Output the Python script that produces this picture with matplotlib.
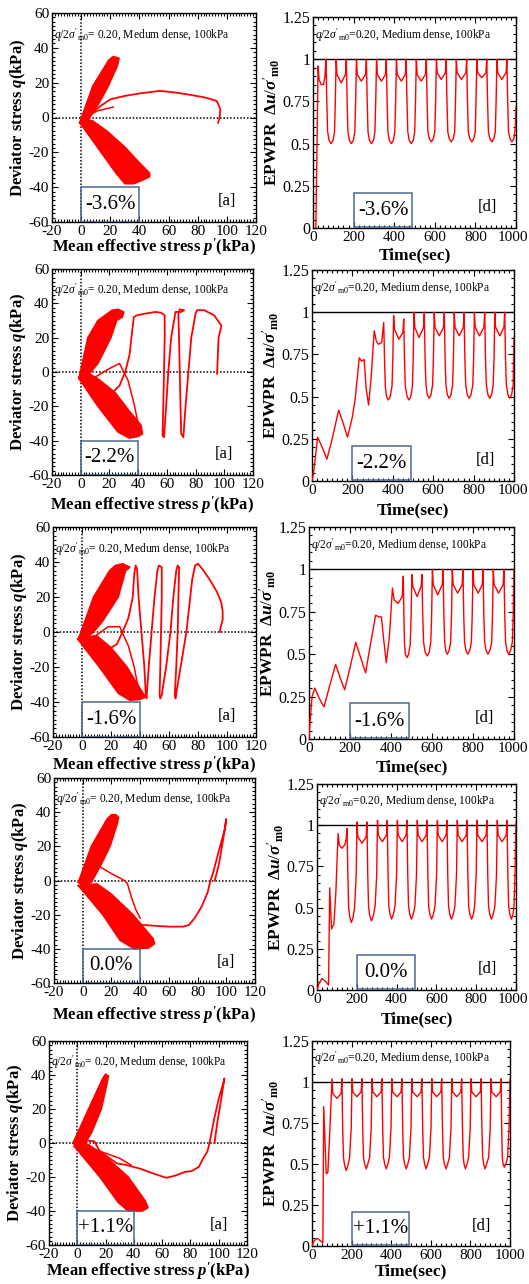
import matplotlib
matplotlib.use("Agg")
import matplotlib.pyplot as plt
from matplotlib.ticker import MultipleLocator, FuncFormatter
from matplotlib.patches import Rectangle
from matplotlib.transforms import ScaledTranslation

plt.rcParams['font.family'] = ['Liberation Serif', 'DejaVu Serif']
plt.rcParams['axes.unicode_minus'] = False
plt.rcParams['mathtext.fontset'] = 'custom'
plt.rcParams['mathtext.rm'] = 'Liberation Serif'
plt.rcParams['mathtext.it'] = 'Liberation Serif:italic'
plt.rcParams['mathtext.bf'] = 'Liberation Serif:bold'
try:
    plt.rcParams['mathtext.bfit'] = 'Liberation Serif:italic:bold'
    BFIT = True
except KeyError:
    BFIT = False

# ---------------- data ----------------
case_labels = ["-3.6%", "-2.2%", "-1.6%", "0.0%", "+1.1%"]

# stress paths (p', q): outline of dense cyclic "wings", first-cycle paths, extra crossing paths
up_wing_p_1 = [-1, 8, 19, 22, 26, 25, 18, 10, 5, 2]
up_wing_q_1 = [-3, 18, 33, 35, 34, 30, 17, 5, -1, -4]
low_wing_p_1 = [0, 12, 24, 30, 36, 42, 47, 47, 40, 30, 18, 8, 3]
low_wing_q_1 = [-4, -18, -32, -38, -38, -36, -34, -32, -26, -17, -8, -2, -1]
path_p_1 = [94, 95, 95.5, 95, 93, 85, 75, 65, 54, 40, 30, 20, 14, 8, 3]
path_q_1 = [-3, 0, 4, 6, 9.5, 11.5, 13, 14.3, 15.3, 13.8, 12.4, 10.4, 7, 3, 0]
cross_p_1 = [4, 12, 22]
cross_q_1 = [1, 4, 6]

up_wing_p_2 = [-1, 5, 12, 22, 26, 30, 29, 25, 21, 12, 6, 2]
up_wing_q_2 = [-3, 20, 30, 36, 36.5, 35, 32, 30, 20, 5, -1, -4]
low_wing_p_2 = [-1, 12, 26, 34, 40, 43, 42, 34, 24, 12, 6]
low_wing_q_2 = [-4, -20, -35, -38.5, -37.5, -36, -31, -23, -12, -4, -1]
path_p_2 = [95, 95.5, 96, 98, 93, 86, 81, 80, 77, 75, 73, 71.5, 70, 69.5, 69, 68.5, 68, 69, 72, 70,
            66, 63, 61, 59.5, 58, 57, 57.5, 58, 58.5, 58.5, 56, 52, 45, 39, 37, 36, 34, 31, 27, 22, 16]
path_q_2 = [-1, 10, 20, 27, 33, 36, 36, 34, 20, 0, -20, -38, -36, -20, 0, 20, 34, 36.5, 36, 35,
            35, 20, 0, -20, -38, -37, -20, 0, 20, 33, 34.5, 35, 34, 33, 32, 25, 10, 0, -8, -12, -12]
cross_p_2 = [10, 20, 27, 33, 37, 40]
cross_q_2 = [-3, 2, 5, -5, -18, -30]

up_wing_p_3 = [-2, 8, 19, 23, 28, 33, 30, 25, 14, 8, 2]
up_wing_q_3 = [-3, 20, 35, 38, 39, 37, 35, 20, 6, 0, -4]
low_wing_p_3 = [-3, 12, 25, 33, 40, 44, 42, 31, 20, 10]
low_wing_q_3 = [-4, -20, -35, -39, -38.5, -37, -35, -20, -9, -2]
path_p_3 = [95, 96, 97, 97, 96, 93, 88, 83, 80, 78, 76, 74, 72, 69, 66, 64.5, 64, 65, 66, 66.5, 67,
            66, 65, 63, 61, 58, 55, 54, 53.5, 54, 54.5, 55, 55, 53, 52, 50, 48, 46, 44.5, 44, 43, 41,
            39, 38, 37, 36, 35, 32, 28, 24, 18, 12]
path_q_3 = [0, 4, 7, 12, 17, 23, 30, 36, 39, 38, 30, 15, 0, -15, -30, -38, -36, -20, 0, 20, 37,
            38, 35, 20, 0, -20, -36, -38, -36, -20, 0, 20, 37, 38, 35, 20, 0, -20, -38, -36, -20, 0,
            20, 36, 38, 33, 20, 8, 0, -7, -10, -8]
cross_p_3 = [8, 18, 26, 32, 36, 39]
cross_q_3 = [-3, 3, 3, -8, -20, -33]

up_wing_p_4 = [-3, 6, 17, 20, 23, 25, 24, 19, 12, 6, 1]
up_wing_q_4 = [-1, 20, 36, 38.5, 38.5, 37, 33, 20, 8, -1, -4]
low_wing_p_4 = [-3, 14, 26, 36, 46, 50, 49, 35, 20, 10]
low_wing_q_4 = [-3, -20, -35, -40, -39.5, -37, -34, -20, -8, -2]
path_p_4 = [92, 95, 98, 100, 99, 95, 91, 89, 87, 83, 78, 74, 70, 60, 50, 42]
path_q_4 = [0, 10, 25, 36, 30, 18, 5, 0, -7, -15, -22, -26, -27, -27, -26.5, -26]
cross_p_4 = [5, 12, 19, 28, 31, 34, 37, 40]
cross_q_4 = [2, 8, 4.5, 0.5, -1.5, -10, -17, -22]

up_wing_p_5 = [-3, 8, 18, 20, 22, 21, 17, 10, 5, 0]
up_wing_q_5 = [0, 20, 38, 40.5, 39.5, 35, 20, 6, -1, -3]
low_wing_p_5 = [-2, 16, 29, 36, 46, 50, 48, 36, 20, 8]
low_wing_q_5 = [-2, -20, -35, -40, -40, -38, -34, -20, -8, -1]
path_p_5 = [97, 99, 102, 104, 103.5, 100, 97, 93.5, 92, 89, 86, 81, 76, 70, 63, 54, 44, 35, 28, 23, 16, 12, 5, 0]
path_q_5 = [0, 12, 27, 38, 36, 26, 15, 0, -5, -9, -14, -16.5, -17, -19, -20.5, -18, -15, -13, -12, -9, -5, 1, 1.5, 1]
cross_p_5 = [10, 20, 30, 38]
cross_q_5 = [-3, -6, -9, -13]

# excess pore-water pressure ratio time histories (time in sec, ratio)
t_d1 = [14, 25, 30, 40, 52, 59,
        64, 68, 72, 79, 89, 99, 106, 110, 114, 118, 139, 160,
        164, 168, 172, 179, 189, 199, 206, 210, 214, 218, 238, 259,
        263, 267, 271, 278, 288, 298, 305, 309, 313, 317, 337, 357,
        361, 365, 369, 376, 386, 396, 403, 407, 411, 415, 435, 455,
        459, 463, 467, 474, 484, 494, 501, 505, 509, 513, 533, 554,
        558, 562, 566, 573, 583, 593, 600, 604, 608, 612, 632, 652,
        656, 660, 664, 671, 681, 691, 698, 702, 706, 710, 731, 753,
        757, 761, 765, 772, 782, 792, 799, 803, 807, 811, 831, 852,
        856, 860, 864, 871, 881, 891, 898, 902, 906, 910, 930, 951,
        955, 959, 963, 970, 980, 990, 997, 1000]
u_d1 = [0.0, 0.96, 0.88, 0.85, 0.85, 0.90,
        1.0, 0.75, 0.57, 0.52, 0.50, 0.52, 0.57, 0.75, 1.0, 0.91, 0.86, 0.91,
        1.0, 0.75, 0.57, 0.52, 0.50, 0.52, 0.57, 0.75, 1.0, 0.91, 0.87, 0.91,
        1.0, 0.75, 0.57, 0.52, 0.50, 0.52, 0.57, 0.75, 1.0, 0.91, 0.87, 0.91,
        1.0, 0.75, 0.57, 0.52, 0.50, 0.52, 0.57, 0.75, 1.0, 0.91, 0.87, 0.91,
        1.0, 0.75, 0.57, 0.52, 0.50, 0.52, 0.57, 0.75, 1.0, 0.91, 0.87, 0.91,
        1.0, 0.75, 0.57, 0.53, 0.51, 0.53, 0.57, 0.75, 1.0, 0.92, 0.88, 0.92,
        1.0, 0.75, 0.57, 0.53, 0.51, 0.53, 0.57, 0.75, 1.0, 0.92, 0.88, 0.92,
        1.0, 0.75, 0.57, 0.53, 0.51, 0.53, 0.57, 0.75, 1.0, 0.92, 0.89, 0.92,
        1.0, 0.75, 0.57, 0.53, 0.51, 0.53, 0.57, 0.75, 1.0, 0.92, 0.88, 0.92,
        1.0, 0.75, 0.57, 0.53, 0.51, 0.53, 0.60, 0.72]

t_d2 = [0, 8, 28, 50, 74, 100, 132, 155, 176, 200, 214, 234, 245, 258, 268, 280, 292, 308, 318, 329, 345,
        355, 359, 363, 369, 378, 387, 396, 400, 404, 408, 430, 450,
        454, 458, 462, 471, 480, 489, 497, 501, 505, 509, 530, 552,
        556, 560, 564, 571, 580, 589, 597, 601, 605, 609, 630, 651,
        655, 659, 663, 670, 679, 688, 696, 700, 704, 708, 729, 749,
        753, 757, 761, 769, 778, 787, 796, 800, 804, 808, 829, 851,
        855, 859, 863, 871, 880, 889, 897, 901, 905, 909, 930, 950,
        954, 958, 962, 970, 979, 988, 996, 1000]
u_d2 = [0.0, 0.05, 0.26, 0.20, 0.13, 0.25, 0.42, 0.34, 0.26, 0.38, 0.49, 0.73, 0.71, 0.72, 0.55, 0.45, 0.60, 0.89, 0.83, 0.81, 0.82,
        0.94, 0.72, 0.56, 0.50, 0.48, 0.50, 0.56, 0.72, 0.98, 0.90, 0.84, 0.88,
        0.96, 0.72, 0.56, 0.50, 0.48, 0.50, 0.56, 0.72, 1.0, 0.91, 0.85, 0.91,
        1.0, 0.72, 0.57, 0.51, 0.49, 0.51, 0.57, 0.72, 1.0, 0.91, 0.86, 0.91,
        1.0, 0.72, 0.57, 0.51, 0.49, 0.51, 0.57, 0.72, 1.0, 0.91, 0.86, 0.91,
        1.0, 0.72, 0.57, 0.51, 0.49, 0.51, 0.57, 0.72, 1.0, 0.91, 0.86, 0.91,
        1.0, 0.72, 0.57, 0.51, 0.49, 0.51, 0.57, 0.72, 1.0, 0.91, 0.86, 0.91,
        1.0, 0.72, 0.57, 0.51, 0.49, 0.51, 0.57, 0.85]

t_d3 = [0, 5, 15, 28, 50, 73, 100, 130, 152, 174, 200, 228, 252, 276, 300, 325, 340, 353, 365, 377, 392, 407, 415, 435, 455,
        460, 463, 466, 470, 478, 486, 494, 498, 502, 506, 527, 547,
        551, 555, 559, 567, 577, 586, 594, 598, 602, 606, 628, 650,
        654, 658, 662, 667, 675, 683, 691, 695, 699, 703, 725, 747,
        751, 755, 759, 766, 775, 784, 792, 796, 800, 804, 825, 845,
        849, 853, 857, 864, 873, 882, 891, 895, 899, 903, 925, 947,
        951, 955, 959, 966, 974, 983, 992, 996, 1000]
u_d3 = [0.0, 0.10, 0.25, 0.30, 0.24, 0.19, 0.31, 0.44, 0.36, 0.29, 0.42, 0.57, 0.48, 0.39, 0.56, 0.73, 0.72, 0.72, 0.58, 0.45, 0.60, 0.89, 0.82, 0.80, 0.84,
        0.96, 0.72, 0.56, 0.50, 0.48, 0.50, 0.56, 0.72, 0.97, 0.90, 0.84, 0.90,
        0.97, 0.72, 0.57, 0.51, 0.49, 0.51, 0.57, 0.72, 1.0, 0.91, 0.85, 0.91,
        1.0, 0.72, 0.57, 0.52, 0.50, 0.52, 0.57, 0.72, 1.0, 0.91, 0.86, 0.91,
        1.0, 0.72, 0.57, 0.52, 0.50, 0.52, 0.57, 0.72, 1.0, 0.91, 0.86, 0.91,
        1.0, 0.72, 0.57, 0.52, 0.50, 0.52, 0.57, 0.72, 1.0, 0.91, 0.86, 0.91,
        1.0, 0.72, 0.57, 0.52, 0.50, 0.52, 0.57, 0.72, 1.0]

t_d4 = [0, 10, 25, 45, 58, 64, 73, 85, 95, 106, 112, 125, 140, 147,
        151, 155, 159, 165, 173, 181, 189, 197, 201, 205, 226, 247,
        251, 255, 259, 265, 274, 283, 292, 300, 304, 308, 328, 349,
        353, 357, 361, 367, 375, 384, 392, 400, 404, 408, 428, 448,
        452, 456, 460, 466, 475, 484, 492, 500, 504, 508, 528, 549,
        553, 557, 561, 567, 576, 585, 593, 601, 605, 609, 629, 649,
        653, 657, 661, 667, 676, 685, 693, 701, 705, 709, 729, 750,
        754, 758, 762, 768, 777, 786, 792, 800, 804, 808, 829, 850,
        854, 858, 862, 868, 877, 886, 894, 902, 906, 910, 930, 951,
        955, 959, 963, 969, 977, 985, 990, 995, 1000]
u_d4 = [0.0, 0.04, 0.07, 0.05, 0.03, 0.62, 0.37, 0.40, 0.60, 0.95, 0.88, 0.86, 0.88, 0.92,
        0.98, 0.70, 0.50, 0.44, 0.41, 0.44, 0.50, 0.70, 1.02, 0.93, 0.89, 0.93,
        1.02, 0.70, 0.51, 0.45, 0.42, 0.45, 0.51, 0.70, 1.03, 0.94, 0.90, 0.94,
        1.03, 0.70, 0.51, 0.46, 0.43, 0.46, 0.51, 0.70, 1.03, 0.94, 0.90, 0.94,
        1.03, 0.70, 0.51, 0.46, 0.43, 0.46, 0.51, 0.70, 1.03, 0.94, 0.90, 0.94,
        1.03, 0.70, 0.51, 0.46, 0.43, 0.46, 0.51, 0.70, 1.03, 0.94, 0.90, 0.94,
        1.03, 0.70, 0.51, 0.46, 0.43, 0.46, 0.51, 0.70, 1.03, 0.94, 0.90, 0.94,
        1.03, 0.70, 0.51, 0.46, 0.43, 0.46, 0.51, 0.70, 1.03, 0.94, 0.90, 0.94,
        1.03, 0.70, 0.51, 0.46, 0.43, 0.46, 0.51, 0.70, 1.03, 0.94, 0.90, 0.94,
        1.03, 0.70, 0.51, 0.46, 0.43, 0.46, 0.51, 0.70, 1.02]

t_d5 = [0, 10, 25, 45, 55, 59, 72, 80, 90, 101, 105, 126, 147,
        151, 155, 159, 165, 173, 181, 190, 198, 202, 206, 227, 248,
        252, 256, 260, 266, 274, 282, 291, 299, 303, 307, 328, 349,
        353, 357, 361, 367, 375, 383, 391, 399, 403, 407, 430, 450,
        454, 458, 462, 468, 476, 484, 492, 500, 504, 508, 531, 551,
        555, 559, 563, 569, 576, 584, 593, 601, 605, 609, 630, 651,
        655, 659, 663, 669, 677, 685, 694, 702, 706, 710, 731, 752,
        756, 760, 764, 768, 775, 783, 791, 799, 803, 807, 828, 850,
        854, 858, 862, 867, 874, 882, 892, 900, 904, 908, 930, 951,
        955, 958, 961, 965, 971, 979, 988, 995, 1000]
u_d5 = [0.0, 0.03, 0.047, 0.03, 0.02, 0.85, 0.44, 0.45, 0.70, 1.02, 0.93, 0.90, 0.93,
        1.02, 0.72, 0.54, 0.49, 0.46, 0.49, 0.54, 0.72, 1.02, 0.94, 0.91, 0.94,
        1.02, 0.72, 0.54, 0.50, 0.47, 0.50, 0.54, 0.72, 1.02, 0.94, 0.91, 0.94,
        1.02, 0.72, 0.54, 0.50, 0.47, 0.50, 0.54, 0.72, 1.02, 0.94, 0.91, 0.94,
        1.02, 0.72, 0.54, 0.50, 0.47, 0.50, 0.54, 0.72, 1.02, 0.94, 0.91, 0.94,
        1.02, 0.72, 0.54, 0.50, 0.47, 0.50, 0.54, 0.72, 1.02, 0.94, 0.91, 0.94,
        1.02, 0.72, 0.54, 0.50, 0.47, 0.50, 0.54, 0.72, 1.02, 0.94, 0.91, 0.94,
        1.02, 0.72, 0.54, 0.50, 0.47, 0.50, 0.54, 0.72, 1.02, 0.94, 0.91, 0.94,
        1.02, 0.72, 0.54, 0.50, 0.47, 0.50, 0.54, 0.72, 1.02, 0.94, 0.91, 0.94,
        1.02, 0.72, 0.54, 0.50, 0.48, 0.50, 0.54, 0.72, 1.02]

left_data = [
    (up_wing_p_1, up_wing_q_1, low_wing_p_1, low_wing_q_1, path_p_1, path_q_1, cross_p_1, cross_q_1),
    (up_wing_p_2, up_wing_q_2, low_wing_p_2, low_wing_q_2, path_p_2, path_q_2, cross_p_2, cross_q_2),
    (up_wing_p_3, up_wing_q_3, low_wing_p_3, low_wing_q_3, path_p_3, path_q_3, cross_p_3, cross_q_3),
    (up_wing_p_4, up_wing_q_4, low_wing_p_4, low_wing_q_4, path_p_4, path_q_4, cross_p_4, cross_q_4),
    (up_wing_p_5, up_wing_q_5, low_wing_p_5, low_wing_q_5, path_p_5, path_q_5, cross_p_5, cross_q_5),
]
right_data = [(t_d1, u_d1), (t_d2, u_d2), (t_d3, u_d3), (t_d4, u_d4), (t_d5, u_d5)]

# ---------------- layout (pixels) ----------------
W, H = 529, 1284
left_boxes = [(52, 13, 256, 222), (52, 269, 253, 475), (53, 527, 256, 737),
              (54, 778, 255, 983), (49, 1041, 247, 1245)]
right_boxes = [(313, 17, 516, 228), (312, 270, 514, 481), (309, 527, 514, 739),
               (317, 784, 516, 990), (312, 1041, 510, 1246)]
left_xlab_y = [247, 505, 765, 1015, 1271]
right_xlab_y = [255, 510, 767, 1019, 1271]

fig = plt.figure(figsize=(W / 100, H / 100), dpi=100)


def px_axes(b):
    x0, y0, x1, y1 = b
    return fig.add_axes([x0 / W, 1 - y1 / H, (x1 - x0) / W, (y1 - y0) / H])


def style(ax, ls=11):
    ax.tick_params(which='both', direction='in', top=True, right=True,
                   labelsize=ls, width=0.8, pad=2)
    ax.tick_params(which='major', length=4)
    ax.tick_params(which='minor', length=2)
    for s in ax.spines.values():
        s.set_linewidth(1.0)


def place_labels(ax, b, xlab_y, ylab_dx):
    x0, y0, x1, y1 = b
    w, h = x1 - x0, y1 - y0
    ax.xaxis.label.set_va('center')
    ax.yaxis.label.set_va('center')
    ax.xaxis.set_label_coords(0.5, (y1 - xlab_y) / h)
    ax.yaxis.set_label_coords(-ylab_dx / w, 0.5)


RED = '#ff0000'
BOXC = '#4a6894'

if BFIT:
    q_lab = r"Deviator stress $\mathbfit{q}$(kPa)"
    p_lab = r"Mean effective stress $\mathbfit{p'}$(kPa)"
    u_lab = r"EPWPR  $\mathbf{\Delta}\mathbfit{u}/\mathbfit{\sigma}'_{\mathbf{m0}}$"
else:
    q_lab = r"Deviator stress $q$(kPa)"
    p_lab = r"Mean effective stress $p'$(kPa)"
    u_lab = r"EPWPR  $\Delta u/\sigma'_{m0}$"

right_axes = []
for i in range(5):
    # ---- left: effective stress path ----
    ax = px_axes(left_boxes[i])
    uwp, uwq, lwp, lwq, pp, pq, cp, cq = left_data[i]
    ax.axvline(0, color='black', ls=(0, (1, 1.2)), lw=1.1, zorder=1)
    ax.axhline(0, color='black', ls=(0, (1, 1.2)), lw=1.1, zorder=1)
    ax.fill(uwp, uwq, color=RED, lw=0, zorder=2)
    ax.fill(lwp, lwq, color=RED, lw=0, zorder=2)
    ax.plot(uwp + uwp[:1], uwq + uwq[:1], color=RED, lw=1.2, zorder=2)
    ax.plot(lwp + lwp[:1], lwq + lwq[:1], color=RED, lw=1.2, zorder=2)
    ax.plot(pp, pq, color=RED, lw=1.3, zorder=3)
    ax.plot(cp, cq, color=RED, lw=1.1, zorder=3)
    ax.set_xlim(-20, 120)
    ax.set_ylim(-60, 60)
    ax.xaxis.set_major_locator(MultipleLocator(20))
    ax.xaxis.set_minor_locator(MultipleLocator(2))
    ax.yaxis.set_major_locator(MultipleLocator(20))
    ax.yaxis.set_minor_locator(MultipleLocator(2.5))
    style(ax, 11)
    ax.set_ylabel(q_lab, fontsize=12, fontweight='bold')
    ax.set_xlabel(p_lab, fontsize=12, fontweight='bold')
    place_labels(ax, left_boxes[i], left_xlab_y[i], 34)
    ax.text(-18.5, 47.5, r"$q/2\sigma'_{\rm m0}$= 0.20, Medum dense, 100kPa",
            fontsize=8.3, va='center', ha='left', zorder=4)
    ax.add_patch(Rectangle((0, -60), 40, 20, fill=False, edgecolor=BOXC, lw=1.1, zorder=5))
    ax.text(20, -50, case_labels[i], fontsize=15, ha='center', va='center', zorder=5)
    ax.text(100, -48, "[a]", fontsize=12, ha='center', va='center', zorder=5)

    # ---- right: EPWPR time history ----
    ax2 = px_axes(right_boxes[i])
    right_axes.append(ax2)
    t, u = right_data[i]
    ax2.axhline(1.0, color='black', lw=1.0, zorder=1)
    ax2.plot(t, u, color=RED, lw=1.0, zorder=3)
    ax2.set_xlim(0, 1000)
    ax2.set_ylim(0, 1.25)
    ax2.xaxis.set_major_locator(MultipleLocator(200))
    ax2.xaxis.set_minor_locator(MultipleLocator(25))
    ax2.yaxis.set_major_locator(MultipleLocator(0.25))
    ax2.yaxis.set_minor_locator(MultipleLocator(0.05))
    ax2.yaxis.set_major_formatter(FuncFormatter(lambda v, pos: ('%g' % v)))
    style(ax2, 11)
    ax2.tick_params(axis='y', labelsize=11.5)
    ax2.set_ylabel(u_lab, fontsize=12.5, fontweight='bold')
    ax2.set_xlabel("Time(sec)", fontsize=12.5, fontweight='bold')
    place_labels(ax2, right_boxes[i], right_xlab_y[i], 41)
    ax2.text(12, 1.145, r"$q/2\sigma'_{\rm m0}$=0.20, Medium dense, 100kPa",
             fontsize=8.3, va='center', ha='left', zorder=4)
    ax2.add_patch(Rectangle((200, 0.005), 290, 0.205, fill=False, edgecolor=BOXC, lw=1.1, zorder=5))
    ax2.text(345, 0.105, case_labels[i], fontsize=15, ha='center', va='center', zorder=5)
    ax2.text(857, 0.125, "[d]", fontsize=12, ha='center', va='center', zorder=5)

# keep the last time tick label ("1000") inside the canvas
fig.canvas.draw()
for ax2, b in zip(right_axes, right_boxes):
    shift = max(0.0, b[2] + 16.5 - W)
    if shift > 0:
        for tick in ax2.xaxis.get_major_ticks():
            if abs(tick.get_loc() - 1000) < 1e-6:
                tick.label1.set_transform(tick.label1.get_transform() +
                                          ScaledTranslation(-shift / 100, 0, fig.dpi_scale_trans))

fig.savefig("out.png", dpi=100)
